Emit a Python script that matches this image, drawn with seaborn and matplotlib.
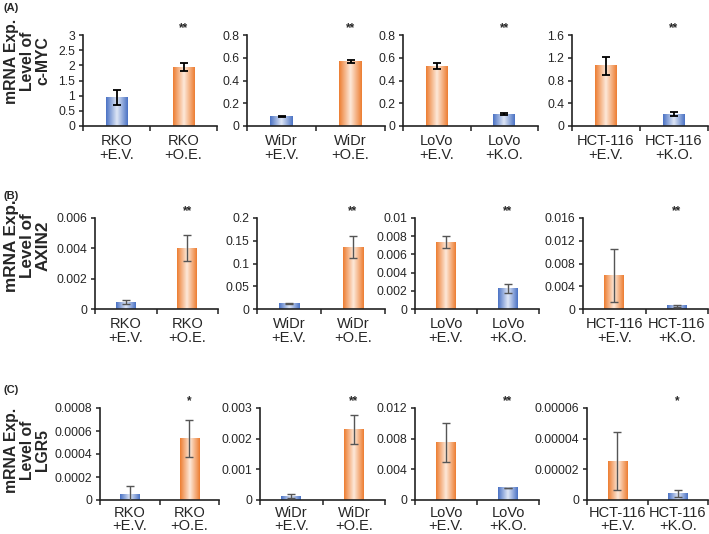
import numpy as np
import pandas as pd
import matplotlib
matplotlib.use("Agg")
import matplotlib.pyplot as plt
from matplotlib.colors import LinearSegmentedColormap
from matplotlib.ticker import MultipleLocator, FuncFormatter, FixedLocator
import seaborn as sns

# ---- data ----
cell_lines = ["RKO", "WiDr", "LoVo", "HCT-116"]
treatments = [["+E.V.", "+O.E."], ["+E.V.", "+O.E."], ["+E.V.", "+K.O."], ["+E.V.", "+K.O."]]
genes = ["c-MYC", "AXIN2", "LGR5"]
panel_tags = ["(A)", "(B)", "(C)"]

myc_mean = [[0.93, 1.94], [0.085, 0.565], [0.527, 0.105], [1.055, 0.21]]
myc_err = [[0.25, 0.13], [0.006, 0.012], [0.03, 0.006], [0.155, 0.035]]
myc_ymax = [3, 0.8, 0.8, 1.6]
myc_step = [0.5, 0.2, 0.2, 0.4]
myc_stars = ["**", "**", "**", "**"]

axin2_mean = [[0.00046, 0.004], [0.0117, 0.1355], [0.00736, 0.00223], [0.0059, 0.00053]]
axin2_err = [[0.00013, 0.00085], [0.001, 0.024], [0.00066, 0.0005], [0.0047, 0.0001]]
axin2_ymax = [0.006, 0.2, 0.01, 0.016]
axin2_step = [0.002, 0.05, 0.002, 0.004]
axin2_stars = ["**", "**", "**", "**"]

lgr5_mean = [[0.0000495, 0.000535], [0.00013, 0.00231], [0.0075, 0.00157], [0.0000253, 0.0000044]]
lgr5_err = [[0.000073, 0.000157], [0.00007, 0.00047], [0.0025, 0.00005], [0.0000189, 0.0000023]]
lgr5_ymax = [0.0008, 0.003, 0.012, 0.00006]
lgr5_step = [0.0002, 0.001, 0.004, 0.00002]
lgr5_stars = ["*", "**", "**", "*"]

rows = [
    (myc_mean, myc_err, myc_ymax, myc_step, myc_stars),
    (axin2_mean, axin2_err, axin2_ymax, axin2_step, axin2_stars),
    (lgr5_mean, lgr5_err, lgr5_ymax, lgr5_step, lgr5_stars),
]

# ---- styling ----
BLUE, ORANGE = "#4a72c4", "#ed7d31"
blue_cmap = LinearSegmentedColormap.from_list("b", [BLUE, "#dfe7f6", BLUE], N=256)
orange_cmap = LinearSegmentedColormap.from_list("o", [ORANGE, "#fde9da", ORANGE], N=256)
bar_colors = [[BLUE, ORANGE], [BLUE, ORANGE], [ORANGE, BLUE], [ORANGE, BLUE]]

W, H = 709, 534
# axes boxes in pixels: (left, right) per panel, (top, baseline) per row
x_spans = [
    [(83, 217), (247, 385), (403, 538), (572, 708)],
    [(95, 218), (257, 385), (415, 539), (583, 708)],
    [(100, 219), (260, 385), (415, 539), (587, 708)],
]
y_spans = [(35, 126), (218, 309), (408, 500)]
ylabel_pos = [(27, 61), (27, 246), (27, 450)]
ylabel_size = [11.3, 12.3, 11.3]
tag_pos = [(3, 8), (3, 196), (3, 390)]
err_style = [("black", 1.3), ("#555555", 1.0), ("#555555", 1.0)]
xlab_pad = [6, 6, 4]
xlab_spacing = [1.0, 1.0, 0.92]

sns.set_style("ticks")
plt.rcParams["font.family"] = ["Liberation Sans", "DejaVu Sans"]


def fmt(v, pos):
    s = format(round(v, 10), "f").rstrip("0").rstrip(".")
    return s if s else "0"


fig = plt.figure(figsize=(W / 100, H / 100), dpi=100)

for r, (means, errs, ymaxs, steps, stars) in enumerate(rows):
    top, base = y_spans[r]
    ecol, elw = err_style[r]
    for c, line in enumerate(cell_lines):
        x0, x1 = x_spans[r][c]
        ax = fig.add_axes([x0 / W, 1 - base / H, (x1 - x0) / W, (base - top) / H])
        labels = [f"{line}\n{t}" for t in treatments[c]]
        df = pd.DataFrame({"group": labels, "value": means[c]})
        sns.barplot(data=df, x="group", y="value", hue="group",
                    palette=bar_colors[c], width=0.32, legend=False, ax=ax,
                    errorbar=None, linewidth=0)
        for k, p in enumerate(ax.patches):
            cmap = blue_cmap if bar_colors[c][k] == BLUE else orange_cmap
            bx, bw, bh = p.get_x(), p.get_width(), p.get_height()
            grad = np.linspace(0, 1, 128).reshape(1, -1)
            ax.imshow(grad, cmap=cmap, aspect="auto", origin="lower",
                      extent=(bx, bx + bw, 0, bh), zorder=2,
                      interpolation="bilinear")
            xc = bx + bw / 2
            ax.errorbar(xc, means[c][k], yerr=errs[c][k], fmt="none",
                        ecolor=ecol, elinewidth=elw, capsize=2.6,
                        capthick=elw, zorder=3)
        # significance marks above the second bar
        p2 = ax.patches[1]
        ax.annotate(stars[c], xy=(p2.get_x() + p2.get_width() / 2, ymaxs[c]),
                    xytext=(0, 5), textcoords="offset points",
                    ha="center", va="center", fontsize=8.5, fontweight="bold",
                    annotation_clip=False)

        ax.set_xlim(-0.5, 1.5)
        ax.set_ylim(0, ymaxs[c])
        ax.yaxis.set_major_locator(MultipleLocator(steps[c]))
        ax.yaxis.set_major_formatter(FuncFormatter(fmt))
        ax.set_xticks([0, 1])
        ax.set_xticklabels(labels, fontsize=10.5, linespacing=xlab_spacing[r])
        ax.xaxis.set_minor_locator(FixedLocator([-0.5, 0.5, 1.5]))
        ax.tick_params(axis="x", which="major", length=0, pad=xlab_pad[r])
        ax.tick_params(axis="x", which="minor", length=3.5, width=1.1,
                       direction="out", color="#222222")
        ax.tick_params(axis="y", length=3, width=1.1, pad=2.5,
                       labelsize=8.8, color="#222222")
        ax.set_xlabel("")
        ax.set_ylabel("")
        sns.despine(ax=ax)
        for s in ("left", "bottom"):
            ax.spines[s].set_linewidth(1.2)
            ax.spines[s].set_color("#222222")
        ax.set_facecolor("none")

    lx, ly = ylabel_pos[r]
    fig.text(lx / W, 1 - ly / H, f"mRNA Exp.\nLevel of\n{genes[r]}",
             rotation=90, ha="center", va="center", fontsize=ylabel_size[r],
             fontweight="bold", linespacing=1.05, multialignment="center")
    tx, ty = tag_pos[r]
    fig.text(tx / W, 1 - ty / H, panel_tags[r], ha="left", va="center",
             fontsize=8, fontweight="bold")

fig.savefig("out.png", dpi=100)
